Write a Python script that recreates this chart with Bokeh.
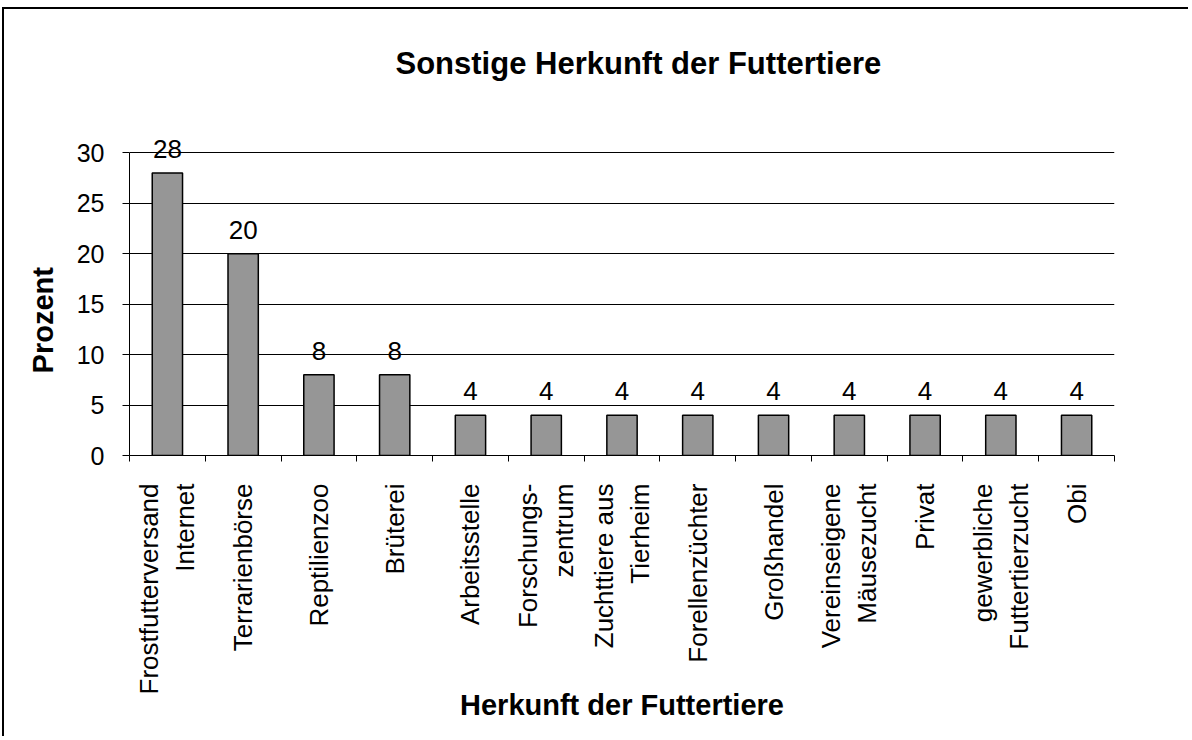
from math import pi
from bokeh.plotting import figure
from bokeh.models import (Range1d, FixedTicker, LinearAxis,
                          ColumnDataSource, LabelSet, Title)
from bokeh.core.properties import value
from bokeh.embed import file_html
from bokeh.resources import INLINE

# ---- data ----
categories = ["Frostfutterversand\nInternet", "Terrarienbörse", "Reptilienzoo", "Brüterei",
              "Arbeitsstelle", "Forschungs-\nzentrum", "Zuchttiere aus\nTierheim",
              "Forellenzüchter", "Großhandel", "Vereinseigene\nMäusezucht", "Privat",
              "gewerbliche\nFuttertierzucht", "Obi"]
values = [28, 20, 8, 8, 4, 4, 4, 4, 4, 4, 4, 4, 4]
y_ticks = [0, 5, 10, 15, 20, 25, 30]
title_text = "Sonstige Herkunft der Futtertiere"
x_title = "Herkunft der Futtertiere"
y_title = "Prozent"

FONT = "Liberation Sans"
BAR = "#969696"
NBSP = "\u00a0"

n = len(categories)
centers = list(range(n))
edges = [i - 0.5 for i in range(n + 1)]

p = figure(width=1186, height=729,
           x_range=Range1d(-0.5, n - 0.5),
           y_range=Range1d(0, 34),
           x_axis_type=None,
           output_backend="svg", toolbar_location=None,
           min_border_left=125, min_border_right=76,
           min_border_top=103, min_border_bottom=283,
           styles={"margin-left": "4px", "margin-top": "9px",
                   "box-shadow": "-2px -2px 0px 0px black"})
p.outline_line_color = None
p.background_fill_color = "white"
p.border_fill_color = "white"

# title
p.add_layout(Title(text=title_text, align="left", offset=266, standoff=64,
                   text_font=FONT, text_font_size="31px", text_font_style="bold",
                   text_color="black"), "above")

# grid
p.ygrid.ticker = FixedTicker(ticks=y_ticks)
p.ygrid.grid_line_color = "black"
p.ygrid.grid_line_width = 1

# y axis
ya = p.yaxis[0]
ya.ticker = FixedTicker(ticks=y_ticks)
ya.bounds = (y_ticks[0], y_ticks[-1])
ya.major_tick_out = 7
ya.major_tick_in = 0
ya.minor_tick_line_color = None
ya.major_label_standoff = 18
ya.major_label_text_font = FONT
ya.major_label_text_font_size = "25px"
ya.major_label_text_color = "black"
ya.axis_line_color = "black"
ya.major_tick_line_color = "black"
ya.axis_label = y_title + NBSP * 9
ya.axis_label_standoff = 15
ya.axis_label_text_font = FONT
ya.axis_label_text_font_size = "29px"
ya.axis_label_text_font_style = "bold"
ya.axis_label_text_color = "black"

# x axis: boundary ticks (no labels)
edge_axis = LinearAxis(ticker=FixedTicker(ticks=edges),
                       major_label_text_color=None, major_label_text_font_size="1px",
                       major_label_standoff=0,
                       major_tick_out=6, major_tick_in=0, minor_tick_line_color=None,
                       axis_line_color="black", major_tick_line_color="black")
p.add_layout(edge_axis, "below")

# x axis: category labels
label_axis = LinearAxis(ticker=FixedTicker(ticks=centers),
                        major_label_overrides={c: lab for c, lab in zip(centers, categories)},
                        major_tick_line_color=None, major_tick_out=0, major_tick_in=0,
                        minor_tick_line_color=None, minor_tick_out=0,
                        axis_line_color=None, major_label_orientation=pi / 2,
                        major_label_standoff=22, major_label_text_font=FONT,
                        major_label_text_font_size="26px", major_label_text_color="black",
                        axis_label=x_title, axis_label_standoff=-8,
                        axis_label_text_font=FONT, axis_label_text_font_size="29px",
                        axis_label_text_font_style="bold", axis_label_text_color="black")
p.add_layout(label_axis, "below")

# bars
src = ColumnDataSource(dict(x=centers, top=values, label=[str(v) for v in values]))
p.vbar(x="x", top="top", width=0.4, source=src, fill_color=BAR, line_color="black", line_width=1.5)

p.add_layout(LabelSet(x="x", y="top", text="label", source=src, y_offset=15,
                      text_align="center", text_baseline="alphabetic",
                      text_font=value(FONT), text_font_size=value("26px"), text_color="black"))

open("out.html", "w").write(file_html(p, INLINE))
